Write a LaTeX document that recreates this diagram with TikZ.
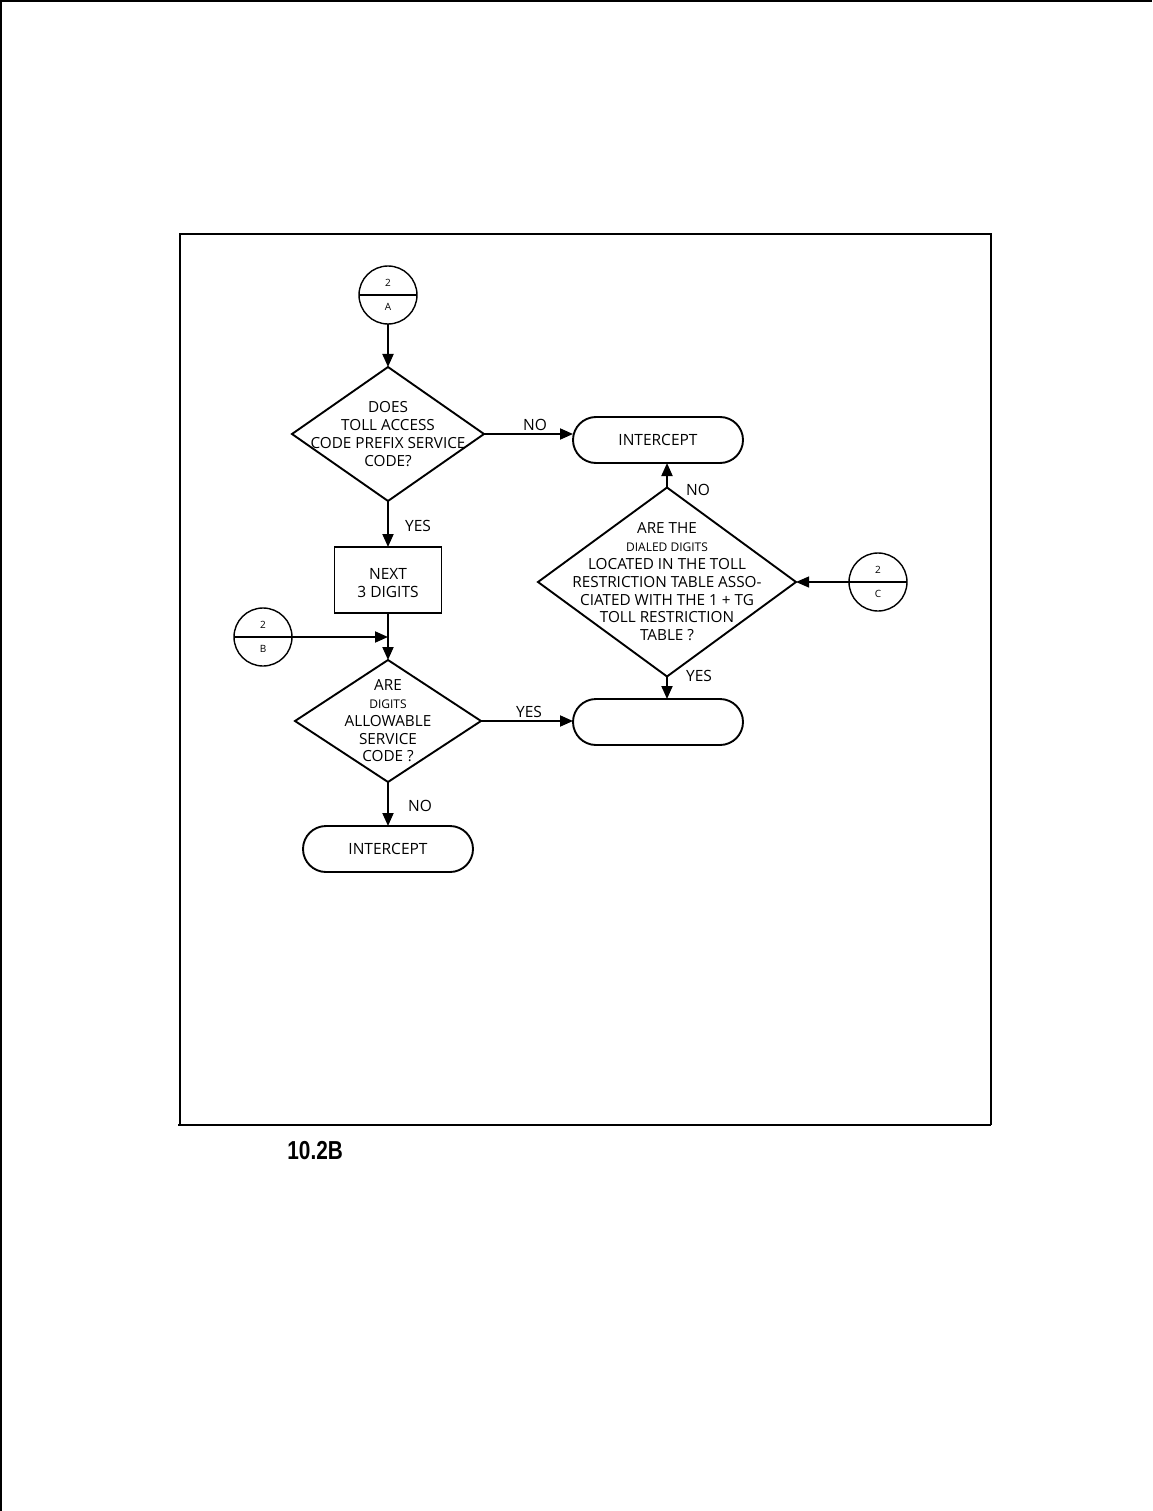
\documentclass[tikz,border=0pt]{standalone}
\usepackage{fontspec}
\setmainfont{Open Sans}
\newfontfamily\capfont{Liberation Sans}
\usetikzlibrary{shapes.geometric,arrows.meta,positioning}

\begin{document}
\begin{tikzpicture}[x=1pt,y=-1pt,line width=1.9pt,
	flow/.style={-{Triangle[length=13pt,width=11pt]}},
	decision/.style={draw,diamond,inner sep=0pt,outer sep=0pt},
	terminal/.style={draw,rectangle,rounded corners=23pt,minimum width=170pt,minimum height=46pt,outer sep=0pt},
	process/.style={draw,rectangle,minimum width=107pt,minimum height=66pt,outer sep=0pt,align=center,font=\fontsize{15.5}{17.5}\selectfont},
	offpage/.style={draw,circle,minimum size=58pt,inner sep=0pt,outer sep=0pt,line width=1.4pt},
	txt/.style={align=center,font=\fontsize{15.3}{17.8}\selectfont},
	lbl/.style={font=\fontsize{15.5}{17}\selectfont}]

	\useasboundingbox (0,0) rectangle (1152,1511);

	% page edges and frame
	\draw[line width=3pt] (0,1) -- (1152,1);
	\draw[line width=2pt] (1,0) -- (1,1511);
	\draw[line width=1.2pt] (180,1125) -- (180,234) -- (991,234) -- (991,1125);
	\draw[line width=2.5pt] (178,1125) -- (991,1125);

	% off-page connectors
	\foreach \nm/\x/\y/\l in {conA/388/295/A, conB/263/637/B, conC/878/582/C}
{
	\node[offpage] (\nm) at (\x,\y) {};
	\draw[line width=1.4pt] (\nm.west) -- (\nm.east);
	\node[font=\fontsize{10}{10}\selectfont] at (\x,\y-12) {2};
	\node[font=\fontsize{10}{10}\selectfont] at (\x,\y+12) {\l};
}

	% decisions
	\node[decision,minimum width=192pt,minimum height=134pt] (dec1) at (388,434) {};
	\node[txt] at (dec1) {DOES\\TOLL ACCESS\\CODE PREFIX SERVICE\\CODE?};

	\node[decision,minimum width=186pt,minimum height=122pt] (dec2) at (388,721) {};
	\node[txt] at (dec2) {ARE\\{\fontsize{12}{17.8}\selectfont DIGITS}\\ALLOWABLE\\SERVICE\\CODE ?};

	\node[decision,minimum width=258pt,minimum height=189pt] (dec3) at (667,582) {};
	\node[txt] at (dec3) {ARE THE\\{\fontsize{12}{17.8}\selectfont DIALED DIGITS}\\LOCATED IN THE TOLL\\RESTRICTION TABLE ASSO-\\CIATED WITH THE 1 + TG\\TOLL RESTRICTION\\TABLE ?};

	% process and terminals
	\node[process] (box) at (388,580) {\mbox{}\\NEXT\\3 DIGITS};
	\node[terminal,font=\fontsize{15.5}{17}\selectfont] (int1) at (658,440) {INTERCEPT};
	\node[terminal] (term2) at (658,722) {};
	\node[terminal,font=\fontsize{15.5}{17}\selectfont] (int3) at (388,849) {INTERCEPT};

	% flow lines
	\draw[flow] (conA) -- (dec1);
	\draw[flow] (dec1.east) -- (dec1.east -| int1.west);
	\draw[flow] (dec1) -- (box);
	\coordinate (join) at (box.south |- conB.east);
	\draw[flow] (conB.east) -- (join);
	\draw[flow] (box) -- (dec2);
	\draw[flow] (dec2.east) -- (dec2.east -| term2.west);
	\draw[flow] (dec2) -- (int3);
	\draw[flow] (dec3.north) -- (dec3.north |- int1.south);
	\draw[flow] (dec3.south) -- (dec3.south |- term2.north);
	\draw[flow,line width=1.2pt] (conC) -- (dec3.east);

	% branch labels
	\node[lbl] (no1) at (535,425) {NO};
	\node[lbl] (yes1) at (418,526) {YES};
	\node[lbl] (yes2) at (529,712) {YES};
	\node[lbl] (no2) at (420,806) {NO};
	\node[lbl] (no3) at (698,490) {NO};
	\node[lbl] (yes3) at (699,676) {YES};

	\node[font=\capfont\bfseries\fontsize{26}{26}\selectfont,xscale=0.8,anchor=west] (fig) at (284,1151) {10.2B};

\end{tikzpicture}
\end{document}
